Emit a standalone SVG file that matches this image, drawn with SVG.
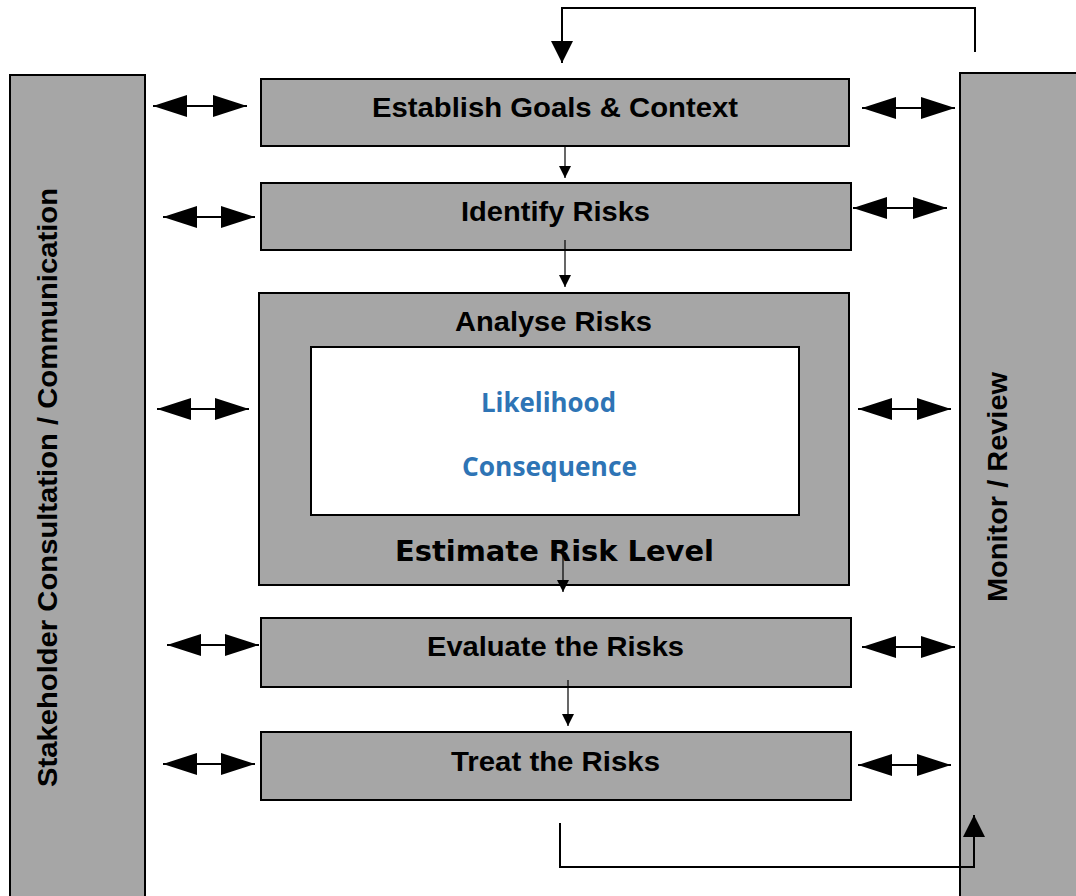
<svg xmlns="http://www.w3.org/2000/svg" width="1076" height="896" viewBox="0 0 1076 896">
<defs>
<style>
.box{fill:#a6a6a6;stroke:#000;stroke-width:2}
.inner{fill:#fff;stroke:#000;stroke-width:2}
.t{font-family:"Liberation Sans",Arial,sans-serif;font-weight:bold;font-size:28px;fill:#000;text-anchor:middle}
.t2{font-family:"DejaVu Sans",sans-serif;font-weight:bold;font-size:28px;fill:#000;text-anchor:middle}
.b{font-family:"Open Sans","Liberation Sans",sans-serif;font-weight:bold;font-size:26px;fill:#2e74b5;text-anchor:middle}
.ln{fill:none;stroke:#000;stroke-width:2}
.thin{fill:none;stroke:#000;stroke-width:1.2}
.dbl{fill:none;stroke:#000;stroke-width:2;marker-start:url(#hs);marker-end:url(#he)}
</style>
<marker id="he" viewBox="0 0 34 22" refX="34" refY="11" markerWidth="34" markerHeight="22" markerUnits="userSpaceOnUse" orient="auto"><path d="M0,0L34,11L0,22z" fill="#000"/></marker>
<marker id="hs" viewBox="0 0 34 22" refX="0" refY="11" markerWidth="34" markerHeight="22" markerUnits="userSpaceOnUse" orient="auto"><path d="M34,0L0,11L34,22z" fill="#000"/></marker>
<marker id="sm" viewBox="0 0 12 12" refX="12" refY="6" markerWidth="12" markerHeight="12" markerUnits="userSpaceOnUse" orient="auto"><path d="M0,0L12,6L0,12z" fill="#000"/></marker>
<marker id="lg" viewBox="0 0 22 22" refX="22" refY="11" markerWidth="22" markerHeight="22" markerUnits="userSpaceOnUse" orient="auto"><path d="M0,0L22,11L0,22z" fill="#000"/></marker>
</defs>
<g id="stakeholder">
<rect class="box" x="10" y="75" width="135" height="830"/>
<text class="t" transform="translate(57,487.5) rotate(-90)" textLength="599" lengthAdjust="spacingAndGlyphs">Stakeholder Consultation / Communication</text>
</g>
<g id="monitor">
<rect class="box" x="960" y="73" width="130" height="830"/>
<text class="t" transform="translate(1007,487) rotate(-90)" textLength="230" lengthAdjust="spacingAndGlyphs">Monitor / Review</text>
</g>
<g id="establish">
<rect class="box" x="261" y="79" width="588" height="67"/>
<text class="t" x="555" y="117" textLength="366" lengthAdjust="spacingAndGlyphs">Establish Goals &amp; Context</text>
</g>
<g id="identify">
<rect class="box" x="261" y="183" width="590" height="67"/>
<text class="t" x="555.5" y="221" textLength="189" lengthAdjust="spacingAndGlyphs">Identify Risks</text>
</g>
<g id="analyse">
<rect class="box" x="259" y="293" width="590" height="292"/>
<text class="t" x="553.5" y="331" textLength="197" lengthAdjust="spacingAndGlyphs">Analyse Risks</text>
<rect class="inner" x="311" y="347" width="488" height="168"/>
<text class="b" x="548.5" y="412" textLength="135" lengthAdjust="spacingAndGlyphs">Likelihood</text>
<text class="b" x="549.5" y="476" textLength="175" lengthAdjust="spacingAndGlyphs">Consequence</text>
<text class="t2" x="554.5" y="561" textLength="319" lengthAdjust="spacingAndGlyphs">Estimate Risk Level</text>
</g>
<g id="evaluate">
<rect class="box" x="261" y="618" width="590" height="69"/>
<text class="t" x="555.5" y="656" textLength="257" lengthAdjust="spacingAndGlyphs">Evaluate the Risks</text>
</g>
<g id="treat">
<rect class="box" x="261" y="732" width="590" height="68"/>
<text class="t" x="555.5" y="771" textLength="209" lengthAdjust="spacingAndGlyphs">Treat the Risks</text>
</g>
<g id="connectors">
<path class="ln" d="M975,52V8H562V63" marker-end="url(#lg)"/>
<path class="ln" d="M560,823V867H974V815" marker-end="url(#lg)"/>
<path class="thin" d="M565,146V178" marker-end="url(#sm)"/>
<path class="thin" d="M565,240V287" marker-end="url(#sm)"/>
<path class="thin" d="M563,550V592" marker-end="url(#sm)"/>
<path class="thin" d="M568,680V726" marker-end="url(#sm)"/>
<path class="dbl" d="M153,106H247"/>
<path class="dbl" d="M163,217H255"/>
<path class="dbl" d="M157,409H249"/>
<path class="dbl" d="M167,645H259"/>
<path class="dbl" d="M163,764H255"/>
<path class="dbl" d="M862,108H955"/>
<path class="dbl" d="M853,208H947"/>
<path class="dbl" d="M858,409H951"/>
<path class="dbl" d="M862,647H955"/>
<path class="dbl" d="M858,765H951"/>
</g>
</svg>
